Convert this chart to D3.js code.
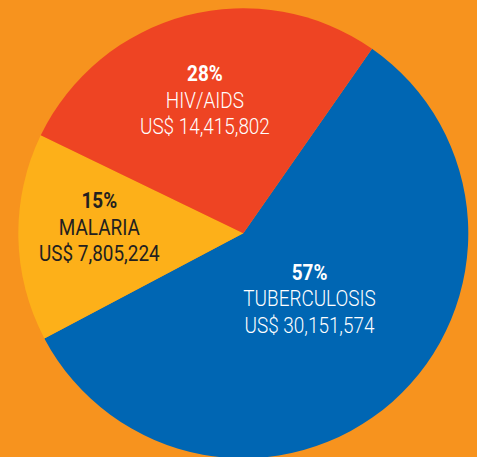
<!DOCTYPE html>
<html>
<head>
<meta charset="utf-8">
<script src="https://cdn.jsdelivr.net/npm/d3@7/dist/d3.min.js"></script>
<style>
  html, body { margin: 0; padding: 0; background: #F7931E; }
  svg { display: block; }
  text { font-family: "Roboto", "Liberation Sans", sans-serif; }
</style>
</head>
<body>
<svg id="chart" width="477" height="457"></svg>
<script>
// ---- data ----
const categories = ["TUBERCULOSIS", "MALARIA", "HIV/AIDS"];
const values = [30151574, 7805224, 14415802];
const percentLabels = ["57%", "15%", "28%"];
const amountLabels = ["US$ 30,151,574", "US$ 7,805,224", "US$ 14,415,802"];

// ---- styling / layout ----
const colors = ["#0066B3", "#FDB019", "#EE4423"];
const textColors = ["#FFFFFF", "#231F20", "#FFFFFF"];
const textWeights = [300, 400, 300];
const labelRadius = [100, 140, 140];
const labelShift = [[0, -10], [-4, -9], [-3, 2]];

const W = 477, H = 457;
const cx = 243.3, cy = 233.3, R = 225;
const startDeg = 34.9;

const svg = d3.select("#chart");
svg.append("rect").attr("width", W).attr("height", H).attr("fill", "#F7931E");

const data = categories.map((c, i) => ({ cat: c, value: values[i], i }));

const pie = d3.pie()
  .sort(null)
  .value(d => d.value)
  .startAngle(startDeg * Math.PI / 180)
  .endAngle(startDeg * Math.PI / 180 + 2 * Math.PI);

const arcs = pie(data);
const arc = d3.arc().innerRadius(0).outerRadius(R);

const g = svg.append("g").attr("transform", `translate(${cx},${cy})`);

g.selectAll("path.slice")
  .data(arcs)
  .join("path")
  .attr("class", "slice")
  .attr("d", arc)
  .attr("fill", d => colors[d.data.i]);

const lineH = 26.5;
const fs = 22;
const labels = g.selectAll("g.label")
  .data(arcs)
  .join("g")
  .attr("class", "label")
  .attr("transform", d => {
    const la = d3.arc().innerRadius(labelRadius[d.data.i]).outerRadius(labelRadius[d.data.i]);
    const [x, y] = la.centroid(d);
    const s = labelShift[d.data.i];
    return `translate(${x + s[0]},${y + s[1] + 8}) scale(0.86,1)`;
  });

labels.append("text")
  .attr("text-anchor", "middle")
  .attr("y", -lineH)
  .attr("font-size", fs)
  .attr("font-weight", "bold")
  .attr("fill", d => textColors[d.data.i])
  .text(d => percentLabels[d.data.i]);

labels.append("text")
  .attr("text-anchor", "middle")
  .attr("y", 0)
  .attr("font-size", fs)
  .attr("font-weight", d => textWeights[d.data.i])
  .attr("fill", d => textColors[d.data.i])
  .text(d => d.data.cat);

labels.append("text")
  .attr("text-anchor", "middle")
  .attr("y", lineH)
  .attr("font-size", fs)
  .attr("font-weight", d => textWeights[d.data.i])
  .attr("fill", d => textColors[d.data.i])
  .text(d => amountLabels[d.data.i]);
</script>
</body>
</html>
